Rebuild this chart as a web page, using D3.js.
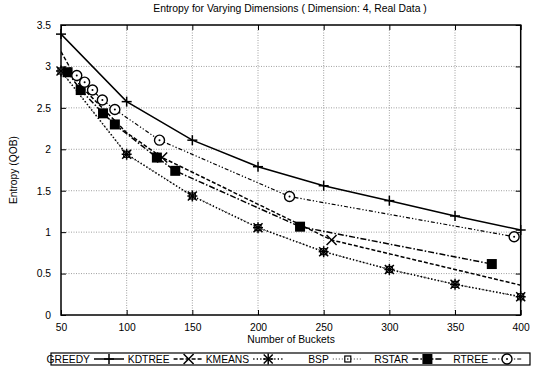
<!DOCTYPE html>
<html><head><meta charset="utf-8">
<script src="https://cdn.jsdelivr.net/npm/d3@7"></script>
<style>body{margin:0;background:#fff}svg{display:block}text{font-family:"Liberation Sans",Arial,sans-serif;fill:#000}</style>
</head><body>
<svg id="c" width="537" height="369"></svg>
<script>
const title = "Entropy for Varying Dimensions ( Dimension: 4, Real Data )";
const xLabel = "Number of Buckets";
const yLabel = "Entropy (QOB)";
const xTicks = [50, 100, 150, 200, 250, 300, 350, 400];
const yTicks = [0, 0.5, 1, 1.5, 2, 2.5, 3, 3.5];

const greedyX = [50, 100, 150, 200, 250, 300, 350, 400];
const greedyY = [3.39, 2.575, 2.11, 1.79, 1.56, 1.38, 1.195, 1.026];
const kdtreeX = [50, 64, 100, 127, 256, 400];
const kdtreeY = [3.18, 2.78, 2.2, 1.9, 0.905, 0.36];
const kdtreeMarked = [false, false, false, true, true, false];
const kmeansX = [50, 100, 150, 200, 250, 300, 350, 400];
const kmeansY = [2.945, 1.94, 1.436, 1.054, 0.764, 0.55, 0.37, 0.22];
const bspX = [50, 100, 150, 200, 250, 300, 350, 400];
const bspY = [2.945, 1.94, 1.436, 1.054, 0.764, 0.55, 0.37, 0.22];
const rstarX = [55, 65, 82, 91, 123, 137, 232, 378];
const rstarY = [2.93, 2.715, 2.434, 2.30, 1.90, 1.74, 1.066, 0.615];
const rtreeX = [62, 68, 74, 81.5, 91, 125, 224, 395];
const rtreeY = [2.89, 2.81, 2.715, 2.595, 2.48, 2.11, 1.43, 0.945];

const series = [
  {name:"GREEDY", xs:greedyX, ys:greedyY, dash:null, w:1.5, mark:"plus"},
  {name:"KDTREE", xs:kdtreeX, ys:kdtreeY, marked:kdtreeMarked, dash:"4,2", w:1.5, mark:"cross"},
  {name:"KMEANS", xs:kmeansX, ys:kmeansY, dash:"1.3,2.2", w:1.6, mark:"star"},
  {name:"BSP", xs:bspX, ys:bspY, dash:"1,2", w:0.8, mark:"sq"},
  {name:"RSTAR", xs:rstarX, ys:rstarY, dash:"6,2,1.5,2", w:1.5, mark:"fsq"},
  {name:"RTREE", xs:rtreeX, ys:rtreeY, dash:"4,2,1.3,2,1.3,2", w:1.2, mark:"circ"}
];

const svg = d3.select("#c");
const L = 61, R = 520.7, T = 25, B = 315;
const x = d3.scaleLinear().domain([50, 400]).range([L, R]);
const y = d3.scaleLinear().domain([0, 3.5]).range([B, T]);

// grid
const g = svg.append("g");
g.selectAll(".gx").data(xTicks.slice(1, -1)).join("line")
  .attr("x1", d => x(d)).attr("x2", d => x(d)).attr("y1", T).attr("y2", B)
  .attr("stroke", "#888").attr("stroke-width", 0.8).attr("stroke-dasharray", "1,1.5");
g.selectAll(".gy").data(yTicks.slice(1, -1)).join("line")
  .attr("y1", d => y(d)).attr("y2", d => y(d)).attr("x1", L).attr("x2", R)
  .attr("stroke", "#888").attr("stroke-width", 0.8).attr("stroke-dasharray", "1,1.5");

// axes
const ax = svg.append("g").attr("transform", `translate(0,${B})`)
  .call(d3.axisBottom(x).tickValues(xTicks).tickSize(-5).tickPadding(9).tickFormat(d3.format("d")));
const axT = svg.append("g").attr("transform", `translate(0,${T})`)
  .call(d3.axisTop(x).tickValues(xTicks).tickSize(-5).tickFormat(""));
const ay = svg.append("g").attr("transform", `translate(${L},0)`)
  .call(d3.axisLeft(y).tickValues(yTicks).tickSize(-5).tickPadding(10).tickFormat(d => d3.format("")(d)));
const ayR = svg.append("g").attr("transform", `translate(${R},0)`)
  .call(d3.axisRight(y).tickValues(yTicks).tickSize(-5).tickFormat(""));
[ax, axT, ay, ayR].forEach(a => {
  a.select(".domain").remove();
  a.selectAll(".tick line").attr("stroke", "#000").attr("stroke-width", 1);
  a.selectAll("text").style("font-size", "10.3px").attr("fill", "#000");
});
svg.append("rect").attr("x", L).attr("y", T).attr("width", R - L).attr("height", B - T)
  .attr("fill", "none").attr("stroke", "#000").attr("stroke-width", 1.5);

// titles
svg.append("text").attr("x", 290).attr("y", 12).attr("text-anchor", "middle").style("font-size", "10.4px").text(title);
svg.append("text").attr("x", 291).attr("y", 343).attr("text-anchor", "middle").style("font-size", "10.3px").text(xLabel);
svg.append("text").attr("transform", "translate(17,170) rotate(-90)").attr("text-anchor", "middle").style("font-size", "10.3px").text(yLabel);

// clip
svg.append("clipPath").attr("id", "pc").append("rect").attr("x", L).attr("y", T).attr("width", R - L).attr("height", B - T);

function drawMark(sel, type, cx, cy) {
  const s = sel.append("g").attr("transform", `translate(${cx},${cy})`);
  const st = {stroke: "#000", "stroke-width": 1.5, fill: "none"};
  const ln = (a, b, c, d) => { const l = s.append("line").attr("x1", a).attr("y1", b).attr("x2", c).attr("y2", d); for (const k in st) l.attr(k, st[k]); };
  if (type === "plus") { ln(-5, 0, 5, 0); ln(0, -5, 0, 5); }
  else if (type === "cross") { ln(-5, -5, 5, 5); ln(-5, 5, 5, -5); }
  else if (type === "star") { ln(-5, 0, 5, 0); ln(0, -5.5, 0, 5.5); ln(-4.5, -4.5, 4.5, 4.5); ln(-4.5, 4.5, 4.5, -4.5); }
  else if (type === "sq") { s.append("rect").attr("x", -3).attr("y", -3).attr("width", 6).attr("height", 6).attr("fill", "#fff").attr("stroke", "#000").attr("stroke-width", 1.2); s.append("circle").attr("r", 0.8).attr("fill", "#000"); }
  else if (type === "fsq") { s.append("rect").attr("x", -5).attr("y", -5).attr("width", 10).attr("height", 10).attr("fill", "#000"); }
  else if (type === "circ") { s.append("circle").attr("r", 5).attr("fill", "#fff").attr("stroke", "#000").attr("stroke-width", 1.4); s.append("circle").attr("r", 1).attr("fill", "#000"); }
}

const plot = svg.append("g").attr("clip-path", "url(#pc)");
const line = d3.line().x(d => x(d[0])).y(d => y(d[1]));
const order = [3, 0, 1, 2, 4, 5];
order.forEach(i => {
  const s = series[i];
  const pts = s.xs.map((v, j) => [v, s.ys[j]]);
  plot.append("path").attr("d", line(pts)).attr("fill", "none").attr("stroke", "#000")
    .attr("stroke-width", s.w).attr("stroke-dasharray", s.dash);
});
const marks = svg.append("g");
order.forEach(i => {
  const s = series[i];
  s.xs.forEach((v, j) => {
    if (s.marked && !s.marked[j]) return;
    drawMark(marks, s.mark, x(v), y(s.ys[j]));
  });
});

// legend
const leg = svg.append("g");
leg.append("rect").attr("x", 51).attr("y", 353).attr("width", 479).attr("height", 12)
  .attr("fill", "none").attr("stroke", "#000").attr("stroke-width", 1.2);
series.forEach((s, i) => {
  const c = 109 + i * 79.6;
  leg.append("text").attr("x", c - 19).attr("y", 363).attr("text-anchor", "end").style("font-size", "10.3px").text(s.name);
  leg.append("line").attr("x1", c - 15).attr("x2", c + 15).attr("y1", 359).attr("y2", 359)
    .attr("stroke", "#000").attr("stroke-width", s.w).attr("stroke-dasharray", s.dash);
  drawMark(leg, s.mark, c, 359);
});
</script>
</body></html>
